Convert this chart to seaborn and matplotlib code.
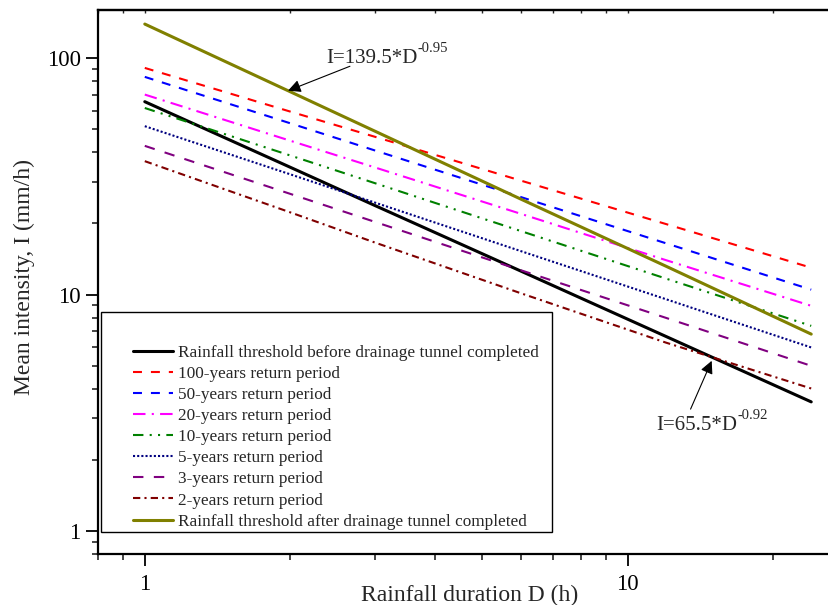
import matplotlib
matplotlib.use("Agg")
import matplotlib.pyplot as plt
import matplotlib.ticker as mticker
from matplotlib.patches import Rectangle
import seaborn as sns
import pandas as pd

# rainfall duration (h) and mean intensity (mm/h)
durations = [1, 2, 3, 6, 12, 24]

before_tunnel = [65.5, 34.6, 23.8, 12.6, 6.66, 3.52]
rp_100 = [91.0, 59.5, 46.5, 30.4, 19.9, 13.0]
rp_50 = [83.4, 53.1, 40.7, 25.9, 16.5, 10.5]
rp_20 = [70.2, 44.8, 34.5, 22.0, 14.0, 8.97]
rp_10 = [61.6, 38.8, 29.6, 18.6, 11.7, 7.38]
rp_5 = [51.6, 32.3, 24.5, 15.3, 9.57, 5.98]
rp_3 = [42.6, 26.7, 20.3, 12.7, 7.98, 5.0]
rp_2 = [36.7, 22.3, 16.6, 10.15, 6.27, 4.01]
after_tunnel = [139.5, 72.2, 49.1, 25.4, 13.2, 6.81]

labels = [
    "Rainfall threshold before drainage tunnel completed",
    "100-years return period",
    "50-years return period",
    "20-years return period",
    "10-years return period",
    "5-years return period",
    "3-years return period",
    "2-years return period",
    "Rainfall threshold after drainage tunnel completed",
]
series = [before_tunnel, rp_100, rp_50, rp_20, rp_10, rp_5, rp_3, rp_2, after_tunnel]

x_ticks = [1, 10]
y_ticks = [1, 10, 100]

# line looks: colour, linestyle, width
styles = [
    ("black", "-", 2.2),
    ("#FF0000", (0, (4.3, 4.3)), 1.5),
    ("#0000FF", (0, (4.3, 4.3)), 1.5),
    ("#FF00FF", (0, (6, 3, 1, 3)), 1.5),
    ("#008000", (0, (5, 3, 1, 3, 1, 3)), 1.5),
    ("#000080", (0, (1, 1)), 1.5),
    ("#800080", (0, (5, 5)), 1.5),
    ("#800000", (0, (3.5, 2, 1, 2)), 1.5),
    ("#808000", "-", 2.2),
]

rows = []
for lab, vals in zip(labels, series):
    for d, v in zip(durations, vals):
        rows.append({"D": d, "I": v, "series": lab})
df = pd.DataFrame(rows)

sns.set_style("ticks")
plt.rcParams["font.family"] = ["Liberation Serif", "DejaVu Serif"]

fig = plt.figure(figsize=(8.29, 6.05), dpi=100)
ax = fig.add_axes([0.1182, 0.0843, 0.9168, 0.8992])

for lab, (col, ls, lw) in zip(labels, styles):
    sns.lineplot(data=df[df["series"] == lab], x="D", y="I", ax=ax,
                 color=col, linestyle=ls, linewidth=lw, label=lab)

ax.set_xscale("log")
ax.set_yscale("log")
ax.set_xlim(0.8, 30)
ax.set_ylim(0.8, 160)

ax.xaxis.set_major_locator(mticker.FixedLocator(x_ticks))
ax.yaxis.set_major_locator(mticker.FixedLocator(y_ticks))
ax.xaxis.set_major_formatter(mticker.FixedFormatter([str(t) for t in x_ticks]))
ax.yaxis.set_major_formatter(mticker.FixedFormatter([str(t) for t in y_ticks]))
ax.xaxis.set_minor_locator(mticker.LogLocator(base=10, subs=range(2, 10)))
ax.yaxis.set_minor_locator(mticker.LogLocator(base=10, subs=range(2, 10)))
ax.xaxis.set_minor_formatter(mticker.NullFormatter())
ax.yaxis.set_minor_formatter(mticker.NullFormatter())

for side in ["left", "bottom", "top"]:
    ax.spines[side].set_linewidth(1.6)
    ax.spines[side].set_color("black")
ax.spines["right"].set_visible(False)

ax.tick_params(which="major", direction="out", length=8.5, width=1.3,
               labelsize=16.5, pad=4, colors="black")
ax.tick_params(axis="x", which="major", pad=6)
ax.tick_params(which="minor", direction="out", length=4.5, width=1.2)

top = ax.secondary_xaxis("top")
top.xaxis.set_major_locator(mticker.FixedLocator(x_ticks))
top.xaxis.set_minor_locator(mticker.LogLocator(base=10, subs=range(2, 10)))
top.xaxis.set_major_formatter(mticker.NullFormatter())
top.xaxis.set_minor_formatter(mticker.NullFormatter())
top.tick_params(which="both", direction="in", length=2.5, width=1)
top.spines["top"].set_linewidth(1.6)

ax.set_xlabel("Rainfall duration D (h)", fontsize=17)
ax.set_ylabel("Mean intensity, I (mm/h)", fontsize=17)
ax.xaxis.set_label_coords(0.489, -0.057)
ax.yaxis.set_label_coords(-0.083, 0.509)

# equation labels with arrows, exponent as a small raised text
arrow = dict(arrowstyle="-|>", color="black", lw=0.8, mutation_scale=19,
             shrinkA=0, shrinkB=0)
t1 = ax.text(2.38, 100, "I=139.5*D", fontsize=15, va="center", ha="left")
ax.annotate("-0.95", xy=(1.0, 0.68), xycoords=t1, fontsize=10.5,
            ha="left", va="bottom")
ax.annotate("", xy=(1.98, 72.9), xytext=(2.66, 92.5), arrowprops=arrow)

t2 = ax.text(11.48, 2.80, "I=65.5*D", fontsize=15, va="center", ha="left")
ax.annotate("-0.92", xy=(1.0, 0.68), xycoords=t2, fontsize=10.5,
            ha="left", va="bottom")
ax.annotate("", xy=(14.93, 5.25), xytext=(13.5, 3.28), arrowprops=arrow)

# legend box drawn separately so the inner padding matches
ax.add_patch(Rectangle((0.0039, 0.0404), 0.594, 0.405, transform=ax.transAxes,
                       facecolor="white", edgecolor="black", lw=1.0, zorder=4))
leg = ax.legend(loc="upper left", bbox_to_anchor=(0.046, 0.384), frameon=False,
                fontsize=12.4, handlelength=2.3, handletextpad=0.3,
                labelspacing=0.29, borderpad=0, borderaxespad=0)
leg.set_zorder(5)

fig.savefig("out.png", dpi=100)
